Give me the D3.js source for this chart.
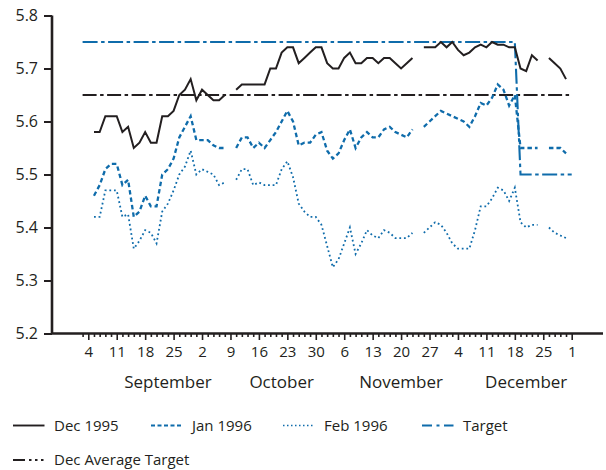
<!DOCTYPE html>
<html>
<head>
<meta charset="utf-8">
<script src="https://d3js.org/d3.v7.min.js"></script>
<style>
  body { margin: 0; background: #fff; }
  svg { font-family: "Open Sans", sans-serif; }
</style>
</head>
<body>
<svg id="chart" width="606" height="470"></svg>
<script>
// Fed funds futures vs. target, Sep-Dec 1995. One value per business day,
// starting Fri Sep 1 1995; null = no trading (Labor Day, Columbus Day,
// Thanksgiving, Christmas) or before the series starts.
var dec95 = [null, null, 5.58, 5.58, 5.61, 5.61, 5.61, 5.58, 5.59, 5.55,
  5.56, 5.58, 5.56, 5.56, 5.61, 5.61, 5.62, 5.65, 5.66, 5.68,
  5.64, 5.66, 5.65, 5.64, 5.64, 5.65, null, 5.66, 5.67, 5.67,
  5.67, 5.67, 5.67, 5.70, 5.70, 5.73, 5.74, 5.74, 5.71, 5.72,
  5.73, 5.74, 5.74, 5.71, 5.70, 5.70, 5.72, 5.73, 5.71, 5.71,
  5.72, 5.72, 5.71, 5.72, 5.72, 5.71, 5.70, 5.71, 5.72, null,
  5.74, 5.74, 5.74, 5.75, 5.74, 5.75, 5.735, 5.725, 5.73, 5.74,
  5.745, 5.74, 5.75, 5.745, 5.745, 5.74, 5.74, 5.70, 5.695, 5.725,
  5.715, null, 5.72, 5.71, 5.70, 5.68];

var jan96 = [null, null, 5.46, 5.48, 5.51, 5.52, 5.52, 5.48, 5.49, 5.42,
  5.43, 5.46, 5.44, 5.44, 5.50, 5.51, 5.53, 5.57, 5.59, 5.61,
  5.565, 5.565, 5.565, 5.555, 5.55, 5.55, null, 5.55, 5.57, 5.57,
  5.55, 5.56, 5.55, 5.565, 5.58, 5.60, 5.62, 5.60, 5.555, 5.56,
  5.56, 5.575, 5.58, 5.545, 5.53, 5.54, 5.565, 5.585, 5.55, 5.57,
  5.58, 5.57, 5.57, 5.585, 5.59, 5.58, 5.575, 5.57, 5.585, null,
  5.59, 5.60, 5.61, 5.62, 5.615, 5.61, 5.605, 5.60, 5.59, 5.61,
  5.635, 5.63, 5.645, 5.67, 5.66, 5.63, 5.65, 5.55, 5.55, 5.55,
  5.55, null, 5.55, 5.55, 5.55, 5.54];

var feb96 = [null, null, 5.42, 5.42, 5.47, 5.47, 5.47, 5.42, 5.425, 5.36,
  5.375, 5.395, 5.39, 5.37, 5.43, 5.445, 5.47, 5.50, 5.515, 5.545,
  5.50, 5.51, 5.505, 5.50, 5.48, 5.485, null, 5.49, 5.51, 5.51,
  5.48, 5.485, 5.48, 5.48, 5.48, 5.51, 5.525, 5.495, 5.445, 5.43,
  5.42, 5.42, 5.405, 5.365, 5.325, 5.34, 5.37, 5.40, 5.35, 5.37,
  5.395, 5.385, 5.38, 5.395, 5.39, 5.38, 5.38, 5.38, 5.39, null,
  5.39, 5.40, 5.41, 5.405, 5.39, 5.37, 5.36, 5.36, 5.36, 5.395,
  5.44, 5.44, 5.455, 5.475, 5.47, 5.45, 5.475, 5.41, 5.40, 5.405,
  5.405, null, 5.40, 5.39, 5.385, 5.38];

// The target was cut from 5.75 to 5.50 on Dec 19.
var targetDates = ["1995-09-01", "1995-12-18", "1995-12-19", "1996-01-01"];
var targetValues = [5.75, 5.75, 5.50, 5.50];
var decAvgDates = ["1995-09-01", "1996-01-01"];
var decAvgValues = [5.65, 5.65];

var yTicks = [5.2, 5.3, 5.4, 5.5, 5.6, 5.7, 5.8];
var months = ["September", "October", "November", "December"];
var monthCentres = ["1995-09-22", "1995-10-20", "1995-11-20", "1995-12-20"];

var BLUE = "#0f6cab", BLACK = "#231f20";
var fmt = d3.timeFormat("%Y-%m-%d");

// Business days Sep 1 1995 .. Jan 1 1996
var days = d3.timeDay.range(new Date(1995, 8, 1), new Date(1996, 0, 2))
  .filter(function (d) { return d.getDay() % 6 !== 0; });
var keys = days.map(fmt);

var svg = d3.select("#chart");

var x = d3.scalePoint().domain(keys).range([82.6, 571.7]);
var y = d3.scaleLinear().domain([5.2, 5.8]).range([333.5, 15.5]);

function pairs(dates, values) {
  return dates.map(function (k, i) { return { k: k, v: values[i] }; });
}

var line = d3.line()
  .defined(function (d) { return d.v != null; })
  .x(function (d) { return x(d.k); })
  .y(function (d) { return y(d.v); });

// reference lines first, futures on top
svg.append("path")
  .datum(pairs(decAvgDates, decAvgValues))
  .attr("d", line).attr("fill", "none")
  .attr("stroke", BLACK).attr("stroke-width", 1.9)
  .attr("stroke-dasharray", "14,3.5,3.5,3.5");

svg.append("path")
  .datum(pairs(targetDates, targetValues))
  .attr("d", line).attr("fill", "none")
  .attr("stroke", BLUE).attr("stroke-width", 2.1)
  .attr("stroke-dasharray", "15,3.5,3.5,3.5");

var series = [
  { values: feb96, color: BLUE, width: 1.8, dash: "1.8,2.8" },
  { values: jan96, color: BLUE, width: 2.3, dash: "4.5,3" },
  { values: dec95, color: BLACK, width: 2, dash: null }
];

series.forEach(function (s) {
  svg.append("path")
    .datum(pairs(keys.slice(0, s.values.length), s.values))
    .attr("d", line).attr("fill", "none")
    .attr("stroke", s.color).attr("stroke-width", s.width)
    .attr("stroke-linejoin", "miter")
    .attr("stroke-dasharray", s.dash);
});

// y axis
var yAxis = svg.append("g")
  .attr("transform", "translate(52,0)")
  .call(d3.axisLeft(y).tickValues(yTicks).tickSize(8).tickPadding(6)
    .tickFormat(d3.format(".1f")));
yAxis.select(".domain").remove();
yAxis.selectAll("line").attr("stroke", BLACK).attr("stroke-width", 2);
yAxis.selectAll("text").attr("font-size", 16).attr("fill", BLACK)
  .attr("font-family", "Open Sans");

// x axis: a tick for each business day, long ticks and labels on Mondays
var xAxis = svg.append("g")
  .attr("transform", "translate(0,333.5)")
  .call(d3.axisBottom(x).tickValues(keys).tickSize(6).tickPadding(7)
    .tickFormat(function (k, i) {
      return days[i].getDay() === 1 ? String(days[i].getDate()) : "";
    }));
xAxis.select(".domain").remove();
xAxis.selectAll(".tick line")
  .attr("stroke", BLACK).attr("stroke-width", 1.6)
  .attr("y2", function (k, i) { return days[i].getDay() === 1 ? 6.5 : 3.5; });
xAxis.selectAll("text").attr("font-size", 15).attr("fill", BLACK)
  .attr("font-family", "Open Sans");

svg.append("path")
  .attr("d", "M52,15.5V333.5H603")
  .attr("fill", "none").attr("stroke", BLACK).attr("stroke-width", 2.6);

svg.selectAll(".month")
  .data(months)
  .enter().append("text")
  .attr("class", "month")
  .attr("x", function (m, i) { return x(monthCentres[i]); })
  .attr("y", 387.5)
  .attr("text-anchor", "middle")
  .attr("font-size", 17).attr("fill", BLACK)
  .text(function (m) { return m; });

// legend
var legend = [
  { name: "Dec 1995", color: BLACK, width: 1.9, dash: null, x: 13, y: 425.5 },
  { name: "Jan 1996", color: BLUE, width: 2, dash: "4,2.5", x: 151, y: 425.5 },
  { name: "Feb 1996", color: BLUE, width: 1.5, dash: "1.5,2.5", x: 283, y: 425.5 },
  { name: "Target", color: BLUE, width: 2, dash: "10,4.5,3,4.5", x: 422, y: 425.5 },
  { name: "Dec Average Target", color: BLACK, width: 1.9,
    dash: "12,4,2.5,3.5,2.5,3.5,2.5", x: 13, y: 460 }
];

var items = svg.selectAll(".legend")
  .data(legend)
  .enter().append("g")
  .attr("class", "legend")
  .attr("transform", function (d) { return "translate(" + d.x + "," + d.y + ")"; });

items.append("line")
  .attr("x1", 0).attr("x2", 31.5)
  .attr("stroke", function (d) { return d.color; })
  .attr("stroke-width", function (d) { return d.width; })
  .attr("stroke-dasharray", function (d) { return d.dash; });

items.append("text")
  .attr("x", 41).attr("y", 5)
  .attr("font-size", 15).attr("fill", BLACK)
  .text(function (d) { return d.name; });
</script>
</body>
</html>
